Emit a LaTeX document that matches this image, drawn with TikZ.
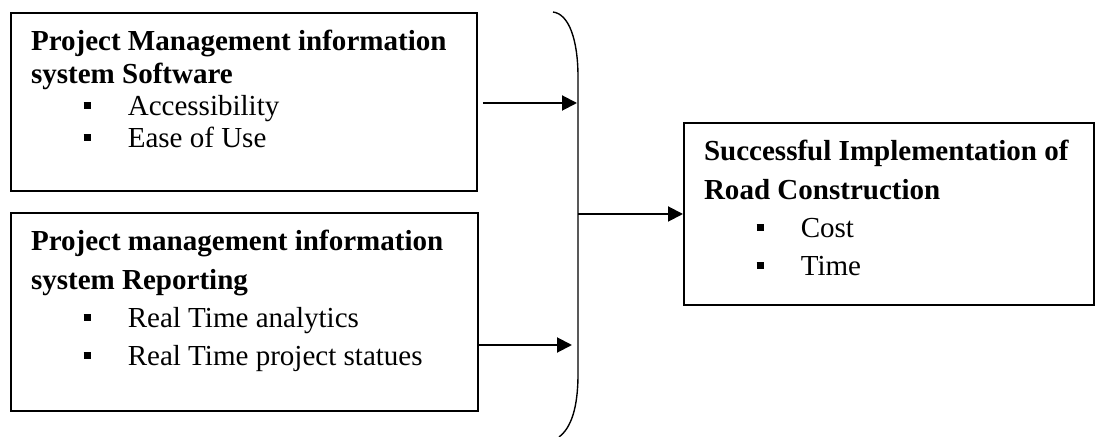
\documentclass[tikz,border=0pt]{standalone}
\usepackage{fontspec}
\setmainfont{Liberation Serif}
\usetikzlibrary{arrows.meta}
\usetikzlibrary{calc}
\usetikzlibrary{positioning}

\newcommand{\bitem}[1]{\hspace*{22.8pt}\rule[2.6pt]{3.2pt}{3.1pt}\hspace*{16pt}#1}
\newcommand{\boxtext}[4]{%
  \begin{minipage}[t][#2][t]{#1}
    \raggedright\leftskip=8.7pt\fontsize{12.6pt}{#3}\selectfont
    \rule{0pt}{16.5pt}#4
  \end{minipage}}

\begin{document}
\begin{tikzpicture}[x=0.434pt, y=-0.434pt]
            \useasboundingbox (0,0) rectangle (1095,437);

            \begin{scope}[every node/.style={draw, line width=0.85pt, rectangle, inner sep=0pt, anchor=north west}]
                \node (software) at (10,12) {\boxtext{202.2pt}{77.3pt}{13.9pt}{%
                    \textbf{Project Management information}\\
                    \textbf{system Software}\\
                    \bitem{Accessibility}\\
                    \bitem{Ease of Use}}};
                \node (reporting) at (10,212) {\boxtext{202.7pt}{85.9pt}{16.5pt}{%
                    \textbf{Project management information}\\
                    \textbf{system Reporting}\\
                    \bitem{Real Time analytics}\\
                    \bitem{Real Time project statues}}};
                \node (success) at (683,122) {\boxtext{177.9pt}{79pt}{16.5pt}{%
                    \textbf{Successful Implementation of}\\
                    \textbf{Road Construction}\\
                    \bitem{Cost}\\
                    \bitem{Time}}};
            \end{scope}

            % brace
            \draw [line width=0.6pt] (553,12) .. controls (569,14) and (578,40) .. (578,77)
                -- (578,374) .. controls (578,408) and (571,428) .. (559,437);
            \coordinate (in1) at (577,103);
            \coordinate (in2) at (572,345);
            \coordinate (out) at (578,214);
            \coordinate (src1) at ($(software.east |- in1)+(5,0)$);

            \begin{scope}[every edge/.style={draw=black, line width=0.85pt}]
                \path [-{Triangle[length=6.5pt,width=6.5pt]}] (src1) edge (in1);
                \path [-{Triangle[length=6.5pt,width=6.5pt]}] (reporting.east |- in2) edge (in2);
                \path [-{Triangle[length=6.5pt,width=6.5pt]}] (out) edge (success.west);
            \end{scope}
        \end{tikzpicture}
\end{document}
